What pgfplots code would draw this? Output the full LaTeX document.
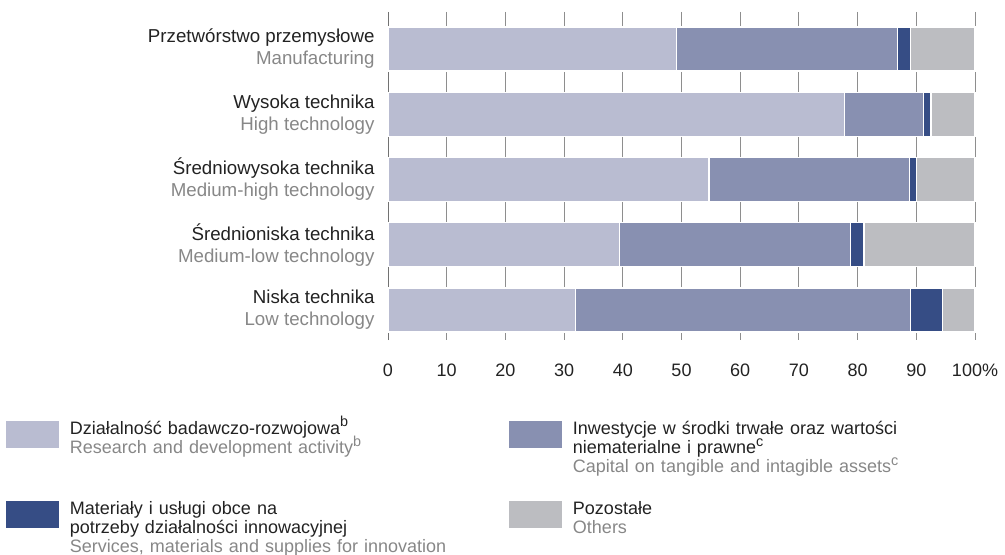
\documentclass[border=0pt]{standalone}
\usepackage{pgfplots}
\pgfplotsset{compat=1.18}
\usepackage{fontspec}
\setmainfont{Liberation Sans}
\definecolor{rd}{HTML}{B9BCD1}
\definecolor{cap}{HTML}{8890B1}
\definecolor{mat}{HTML}{364D85}
\definecolor{oth}{HTML}{BCBDC1}
\definecolor{gr}{HTML}{878787}
\definecolor{tx}{HTML}{222222}
\definecolor{gridc}{HTML}{8E8E8E}
\newcommand{\supr}[1]{\raisebox{3.6pt}[0pt][0pt]{\fontsize{7.2}{7}\selectfont #1}}
\pgfplotsset{lg/.style={legend image code/.code={\fill[##1,draw=none] (0pt,-2pt) rectangle (26.5pt,-15.5pt);}}}
\begin{document}
\begin{tikzpicture}
\useasboundingbox (0,0) rectangle (502.5pt,277.5pt);
\begin{axis}[
  at={(194pt,107.5pt)}, anchor=south west,
  scale only axis, width=293.5pt, height=164pt,
  xbar stacked, bar width=22pt,
  xmin=0, xmax=100, ymin=-0.567, ymax=4.46, y dir=reverse,
  xtick={0,10,...,100},
  xticklabels={0,10,20,30,40,50,60,70,80,90,100\%},
  ytick={0,1,2,3,4},
  yticklabels={
    {Przetwórstwo przemysłowe\\\textcolor{gr}{Manufacturing}},
    {Wysoka technika\\\textcolor{gr}{High technology}},
    {Średniowysoka technika\\\textcolor{gr}{Medium-high technology}},
    {Średnioniska technika\\\textcolor{gr}{Medium-low technology}},
    {Niska technika\\\textcolor{gr}{Low technology}}},
  xmajorgrids, grid style={color=gridc, line width=0.5pt},
  axis line style={draw=none}, tick style={draw=none},
  xticklabel style={font=\fontsize{9}{11}\selectfont, text=tx, yshift=-8.5pt},
  yticklabel style={font=\fontsize{9.35}{11}\selectfont, text=tx, align=right, xshift=-3.2pt},
  legend columns=2,
  legend style={at={(-0.6508,-0.2348)}, anchor=north west, draw=none, fill=none,
    inner sep=0pt, outer sep=0pt, column sep=5.5pt, row sep=24.5pt,
    nodes={inner sep=0pt, anchor=north west, align=left, text width=214pt,
      font=\fontsize{9}{9.7}\selectfont, text=tx}},
  clip=false,
]
\addplot[fill=rd, draw=white, line width=0.6pt, lg] coordinates {(49.2,0) (77.8,1) (54.7,2) (39.4,3) (31.9,4)};
\addlegendentry{\rule{0pt}{8.5pt}Działalność badawczo-rozwojowa\supr{b}\\\textcolor{gr}{Research and development activity\supr{b}}}
\addplot[fill=cap, draw=white, line width=0.6pt, lg] coordinates {(37.6,0) (13.4,1) (34.1,2) (39.4,3) (57.1,4)};
\addlegendentry{\rule{0pt}{8.5pt}Inwestycje w środki trwałe oraz wartości\\niematerialne i prawne\supr{c}\\\textcolor{gr}{Capital on tangible and intagible assets\supr{c}}}
\addplot[fill=mat, draw=white, line width=0.6pt, lg] coordinates {(2.2,0) (1.3,1) (1.2,2) (2.3,3) (5.4,4)};
\addlegendentry{\rule{0pt}{8.5pt}Materiały i usługi obce na\\potrzeby działalności innowacyjnej\\\textcolor{gr}{Services, materials and supplies for innovation}}
\addplot[fill=oth, draw=white, line width=0.6pt, lg] coordinates {(11.0,0) (7.5,1) (10.0,2) (18.9,3) (5.6,4)};
\addlegendentry{\rule{0pt}{8.5pt}Pozostałe\\\textcolor{gr}{Others}}
\draw[color=gridc!80!black, line width=0.5pt] (rel axis cs:0,0) -- (rel axis cs:0,1);
\end{axis}
\end{tikzpicture}
\end{document}
